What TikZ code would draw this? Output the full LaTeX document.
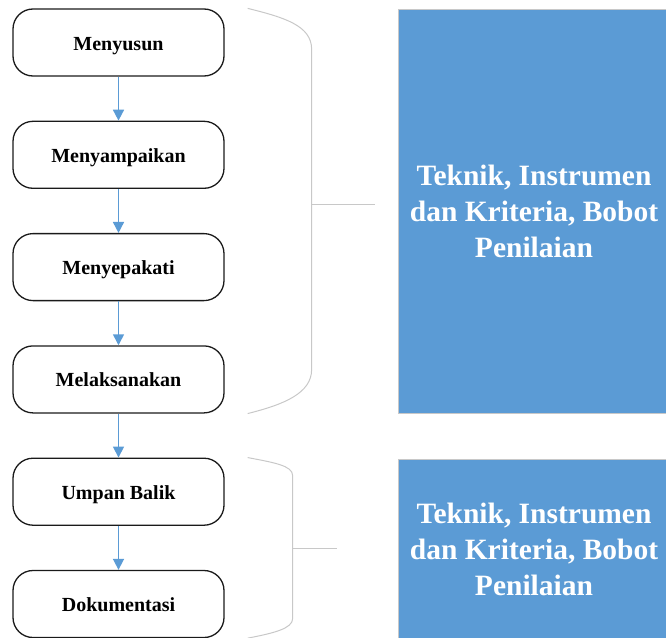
\documentclass[tikz,border=0pt]{standalone}
\usepackage{fontspec}
\setmainfont{Liberation Serif}
\usepackage{tikz}
\usetikzlibrary{arrows.meta, calc, positioning}
\definecolor{SoftBlue}{HTML}{5B9BD5}
\definecolor{BraceGray}{HTML}{C8C8C8}
\definecolor{RichBlack}{HTML}{1A1A1A}
\tikzset{%
  step_block/.style={%
    rectangle,%
    rounded corners=20pt,%
    minimum width=211pt,%
    minimum height=67pt,%
    text height=15pt,%
    text depth=0pt,%
    draw=RichBlack,%
    line width=1.3pt,%
    font={\fontsize{20}{24}\selectfont\bfseries},%
    align=center%
  },
  info_block/.style={%
    rectangle,%
    minimum width=271pt,%
    fill=SoftBlue,%
    draw=BraceGray,%
    line width=1pt,%
    text=white,%
    font={\fontsize{29.5}{36}\selectfont\bfseries},%
    align=center%
  },
  flow_path/.style={%
    color=SoftBlue,%
    line width=1.6pt,%
  },
  brace_path/.style={%
    color=BraceGray,%
    line width=1pt,%
    line join=round,%
  },
  arrow/.style={-{Triangle[width=11pt, length=11pt]}},
}

\begin{document}
\begin{tikzpicture}[x=1pt, y=1pt]
    \useasboundingbox (0,0) rectangle (666,-637);

    \node [step_block] (Menyusun) at (118.5,-42.5) {Menyusun};
    \node [step_block, below = 44pt of Menyusun] (Menyampaikan) {Menyampaikan};
    \node [step_block, below = 44pt of Menyampaikan] (Menyepakati) {Menyepakati};
    \node [step_block, below = 44pt of Menyepakati] (Melaksanakan) {Melaksanakan};
    \node [step_block, below = 44pt of Melaksanakan] (UmpanBalik) {Umpan Balik};
    \node [step_block, below = 44pt of UmpanBalik] (Dokumentasi) {Dokumentasi};

    \node [info_block, minimum height=404pt, anchor=north west] (Kriteria1) at (398,-9)
      {Teknik, Instrumen\\dan Kriteria, Bobot\\Penilaian};
    \node [info_block, minimum height=180pt, anchor=north west] (Kriteria2) at (398,-459)
      {Teknik, Instrumen\\dan Kriteria, Bobot\\Penilaian};

    \draw [arrow, flow_path]
      (Menyusun.south)
      --
      (Menyampaikan.north);
    \draw [arrow, flow_path]
      (Menyampaikan.south)
      --
      (Menyepakati.north);
    \draw [arrow, flow_path]
      (Menyepakati.south)
      --
      (Melaksanakan.north);
    \draw [arrow, flow_path]
      (Melaksanakan.south)
      --
      (UmpanBalik.north);
    \draw [arrow, flow_path]
      (UmpanBalik.south)
      --
      (Dokumentasi.north);

    % braces
    \coordinate (brace1_top) at ($(Menyusun.north east)+(23,0)$);
    \coordinate (brace1_bot) at ($(Melaksanakan.south east)+(23,0)$);
    \coordinate (brace1_mid) at (311,-204);
    \coordinate (tick1_end) at (375,-204);
    \draw [brace_path]
      (brace1_top)
      .. controls +(36,-9) and +(0,24) ..
      ++(64,-41)
      --
      ++(0,-320)
      .. controls +(0,-24) and +(36,9) ..
      (brace1_bot);
    \draw [brace_path] (brace1_mid) -- (tick1_end);

    \coordinate (brace2_top) at ($(UmpanBalik.north east)+(23,0)$);
    \coordinate (brace2_bot) at ($(Dokumentasi.south east)+(23,0)$);
    \coordinate (brace2_mid) at (292,-548);
    \coordinate (tick2_end) at (337,-548);
    \draw [brace_path]
      (brace2_top)
      .. controls +(26,-5) and +(0,10) ..
      ++(45,-18)
      --
      ++(0,-143)
      .. controls +(0,-10) and +(26,5) ..
      (brace2_bot);
    \draw [brace_path] (brace2_mid) -- (tick2_end);
  \end{tikzpicture}
\end{document}
